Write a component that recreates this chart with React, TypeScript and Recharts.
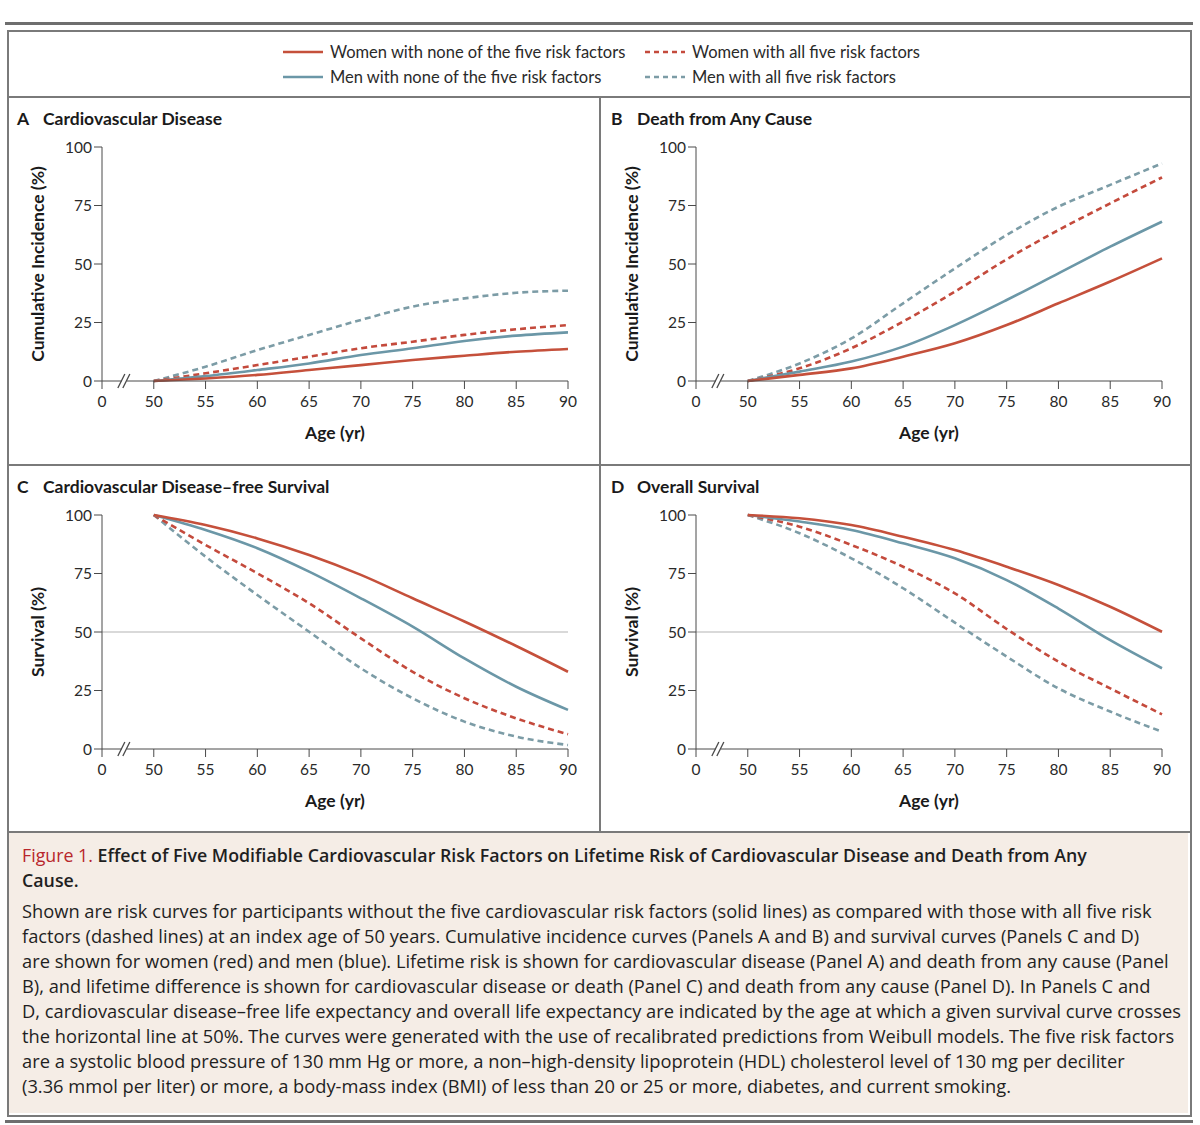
import React from 'react';
import { LineChart, Line, XAxis, YAxis, ReferenceLine, ReferenceDot } from 'recharts';

// ages on the x axis; 45 is a stand-in for "0" on the far side of the axis break
const AGES = [50, 55, 60, 65, 70, 75, 80, 85, 90];
const X_TICKS = [45, 50, 55, 60, 65, 70, 75, 80, 85, 90];
const X_TICK_LABELS = ['0', '50', '55', '60', '65', '70', '75', '80', '85', '90'];
const Y_TICKS = [0, 25, 50, 75, 100];

// Panel A: cardiovascular disease, cumulative incidence (%)
const cvdWomenNone = [0, 1.1, 2.6, 4.7, 6.8, 9.0, 10.8, 12.5, 13.7];
const cvdMenNone = [0, 2.1, 4.7, 7.5, 11.1, 14.0, 17.1, 19.4, 20.8];
const cvdWomenAll = [0, 3.3, 6.8, 10.4, 14.0, 16.8, 19.7, 22.1, 23.9];
const cvdMenAll = [0, 6.1, 13.2, 19.7, 26.1, 31.8, 35.3, 37.7, 38.6];

// Panel B: death from any cause, cumulative incidence (%)
const deathWomenNone = [0, 2.6, 5.4, 10.4, 16.1, 23.9, 33.2, 42.5, 52.4];
const deathMenNone = [0, 4.0, 8.3, 14.7, 23.9, 34.6, 46.0, 57.4, 68.1];
const deathWomenAll = [0, 5.4, 14.0, 25.4, 38.2, 52.0, 64.5, 75.9, 87.0];
const deathMenAll = [0, 7.5, 18.2, 33.2, 48.1, 62.4, 74.5, 83.8, 93.0];

// Panel C: cardiovascular disease-free survival (%)
const cvdFreeWomenNone = [100, 95.7, 90.0, 82.9, 74.4, 64.4, 54.5, 44.0, 33.0];
const cvdFreeMenNone = [100, 93.6, 85.8, 75.8, 64.4, 52.3, 38.7, 26.6, 16.7];
const cvdFreeWomenAll = [100, 87.2, 75.1, 62.3, 47.3, 33.0, 21.7, 13.1, 6.3];
const cvdFreeMenAll = [100, 82.2, 65.8, 50.1, 34.5, 21.7, 11.7, 5.3, 1.7];

// Panel D: overall survival (%)
const survWomenNone = [100, 98.6, 95.7, 90.7, 85.0, 77.9, 70.1, 60.8, 50.1];
const survMenNone = [100, 97.2, 93.6, 87.9, 81.5, 72.2, 60.0, 46.5, 34.5];
const survWomenAll = [100, 95.0, 87.2, 77.9, 66.5, 51.3, 37.3, 25.9, 14.8];
const survMenAll = [100, 92.2, 81.5, 68.7, 54.0, 39.5, 25.9, 16.0, 7.4];

const RED = '#c5503b';
const BLUE = '#6b97a7';
const RED_DASH = '#c44a3c';
const BLUE_DASH = '#7c9ca6';
const AXIS = '#4a4a4a';
const BORDER = '#7a7a7a';
const FONT = 'Lato, "Open Sans", sans-serif';
const CAPTION_FONT = '"Open Sans", Lato, sans-serif';

const buildRows = (wn: number[], mn: number[], wa: number[], ma: number[]) =>
  AGES.map((age, i) => ({ age, wn: wn[i], mn: mn[i], wa: wa[i], ma: ma[i] }));

const AxisBreak = (props: any) => {
  const { cx, cy } = props;
  return (
    <g stroke={AXIS} strokeWidth={1.3}>
      <rect x={cx - 5} y={cy - 2} width={5} height={4} fill="#fff" stroke="none" />
      <line x1={cx - 9} y1={cy + 7} x2={cx - 2} y2={cy - 7} />
      <line x1={cx - 4} y1={cy + 7} x2={cx + 3} y2={cy - 7} />
    </g>
  );
};

function Panel({ left, top, letter, title, yLabel, rows, halfLine }: any) {
  const tick = { fill: '#2a2a2a', fontSize: 15.5, fontFamily: FONT };
  return (
    <div style={{ position: 'absolute', left, top, width: 600, height: 368 }}>
      <div style={{ position: 'absolute', left: 17, top: 11, fontFamily: FONT, fontWeight: 700, fontSize: 17.5, color: '#1a1a1a', whiteSpace: 'nowrap' }}>
        <span style={{ display: 'inline-block', width: 26 }}>{letter}</span>{title}
      </div>
      <LineChart width={600} height={368} data={rows} margin={{ top: 50, right: 32, left: 0, bottom: 24 }}>
        <XAxis
          dataKey="age"
          type="number"
          domain={[45, 90]}
          ticks={X_TICKS}
          tickFormatter={(v: number) => X_TICK_LABELS[X_TICKS.indexOf(v)]}
          stroke={AXIS}
          tickSize={8}
          tickMargin={7}
          tick={tick}
          height={60}
          label={{ value: 'Age (yr)', position: 'insideBottom', offset: 2, fill: '#1a1a1a', fontSize: 17.5, fontWeight: 700, fontFamily: FONT }}
        />
        <YAxis
          type="number"
          domain={[0, 100]}
          ticks={Y_TICKS}
          stroke={AXIS}
          width={102}
          tickSize={8}
          tickMargin={2}
          tick={tick}
          label={{ value: yLabel, angle: -90, position: 'insideLeft', offset: 38, fill: '#1a1a1a', fontSize: 17.5, fontWeight: 700, fontFamily: FONT, style: { textAnchor: 'middle' } }}
        />
        {halfLine && <ReferenceLine y={50} stroke="#b3b3b3" strokeWidth={1.2} />}
        <ReferenceDot x={47.4} y={0} shape={AxisBreak} />
        <Line type="monotone" dataKey="ma" stroke={BLUE_DASH} strokeWidth={2.6} strokeDasharray="6 4" dot={false} isAnimationActive={false} />
        <Line type="monotone" dataKey="wa" stroke={RED_DASH} strokeWidth={2.6} strokeDasharray="6 4" dot={false} isAnimationActive={false} />
        <Line type="monotone" dataKey="mn" stroke={BLUE} strokeWidth={2.6} dot={false} isAnimationActive={false} />
        <Line type="monotone" dataKey="wn" stroke={RED} strokeWidth={2.6} dot={false} isAnimationActive={false} />
      </LineChart>
    </div>
  );
}

const LegendItem = ({ left, top, color, dashed, text }: any) => (
  <div style={{ position: 'absolute', left, top, height: 20, display: 'flex', alignItems: 'center', fontFamily: FONT, fontSize: 16.5, color: '#2a2a2a', whiteSpace: 'nowrap' }}>
    <svg width={40} height={6} style={{ marginRight: 7 }}>
      <line x1={0} y1={3} x2={40} y2={3} stroke={color} strokeWidth={2.6} strokeDasharray={dashed ? '5 4' : undefined} />
    </svg>
    {text}
  </div>
);

const CAPTION_TITLE = [
  'Effect of Five Modifiable Cardiovascular Risk Factors on Lifetime Risk of Cardiovascular Disease and Death from Any',
  'Cause.',
];
const CAPTION_BODY = [
  'Shown are risk curves for participants without the five cardiovascular risk factors (solid lines) as compared with those with all five risk',
  'factors (dashed lines) at an index age of 50 years. Cumulative incidence curves (Panels A and B) and survival curves (Panels C and D)',
  'are shown for women (red) and men (blue). Lifetime risk is shown for cardiovascular disease (Panel A) and death from any cause (Panel',
  'B), and lifetime difference is shown for cardiovascular disease or death (Panel C) and death from any cause (Panel D). In Panels C and',
  'D, cardiovascular disease\u2013free life expectancy and overall life expectancy are indicated by the age at which a given survival curve crosses',
  'the horizontal line at 50%. The curves were generated with the use of recalibrated predictions from Weibull models. The five risk factors',
  'are a systolic blood pressure of 130 mm Hg or more, a non\u2013high-density lipoprotein (HDL) cholesterol level of 130 mg per deciliter',
  '(3.36 mmol per liter) or more, a body-mass index (BMI) of less than 20 or 25 or more, diabetes, and current smoking.',
];

export default function App() {
  return (
    <div style={{ position: 'absolute', left: 0, top: 0, width: 1200, height: 1125, background: '#fff', overflow: 'hidden' }}>
      {/* rules above and below the figure */}
      <div style={{ position: 'absolute', left: 5, top: 22, width: 1188, height: 3, background: '#6e6e6e' }} />
      <div style={{ position: 'absolute', left: 5, top: 1120, width: 1188, height: 3, background: '#6e6e6e' }} />

      {/* outer box */}
      <div style={{ position: 'absolute', left: 7, top: 30, width: 1181, height: 1083, border: `2px solid ${BORDER}` }} />
      <div style={{ position: 'absolute', left: 7, top: 96, width: 1183, height: 2, background: BORDER }} />
      <div style={{ position: 'absolute', left: 7, top: 464, width: 1183, height: 2, background: BORDER }} />
      <div style={{ position: 'absolute', left: 7, top: 831, width: 1183, height: 2, background: BORDER }} />
      <div style={{ position: 'absolute', left: 599, top: 97, width: 2, height: 735, background: BORDER }} />

      <LegendItem left={283} top={42} color={RED} text="Women with none of the five risk factors" />
      <LegendItem left={283} top={67} color={BLUE} text="Men with none of the five risk factors" />
      <LegendItem left={645} top={42} color={RED_DASH} dashed text="Women with all five risk factors" />
      <LegendItem left={645} top={67} color={BLUE_DASH} dashed text="Men with all five risk factors" />

      <Panel left={0} top={97} letter="A" title="Cardiovascular Disease" yLabel="Cumulative Incidence (%)"
        rows={buildRows(cvdWomenNone, cvdMenNone, cvdWomenAll, cvdMenAll)} />
      <Panel left={594} top={97} letter="B" title="Death from Any Cause" yLabel="Cumulative Incidence (%)"
        rows={buildRows(deathWomenNone, deathMenNone, deathWomenAll, deathMenAll)} />
      <Panel left={0} top={465} letter="C" title={'Cardiovascular Disease\u2013free Survival'} yLabel="Survival (%)" halfLine
        rows={buildRows(cvdFreeWomenNone, cvdFreeMenNone, cvdFreeWomenAll, cvdFreeMenAll)} />
      <Panel left={594} top={465} letter="D" title="Overall Survival" yLabel="Survival (%)" halfLine
        rows={buildRows(survWomenNone, survMenNone, survWomenAll, survMenAll)} />

      {/* caption */}
      <div style={{ position: 'absolute', left: 9, top: 833, width: 1179, height: 280, background: '#f5ede6' }} />
      <div style={{ position: 'absolute', left: 22, top: 843, fontFamily: CAPTION_FONT, fontSize: 18.3, lineHeight: '25px', color: '#1f1f1f', whiteSpace: 'nowrap' }}>
        <div style={{ fontWeight: 600, fontSize: 17.8 }}>
          <span style={{ color: '#b8262c', fontWeight: 400 }}>Figure 1.</span> {CAPTION_TITLE[0]}
        </div>
        <div style={{ fontWeight: 600, fontSize: 17.8 }}>{CAPTION_TITLE[1]}</div>
        <div style={{ height: 5 }} />
        {CAPTION_BODY.map((line, i) => (
          <div key={i}>{line}</div>
        ))}
      </div>
    </div>
  );
}
